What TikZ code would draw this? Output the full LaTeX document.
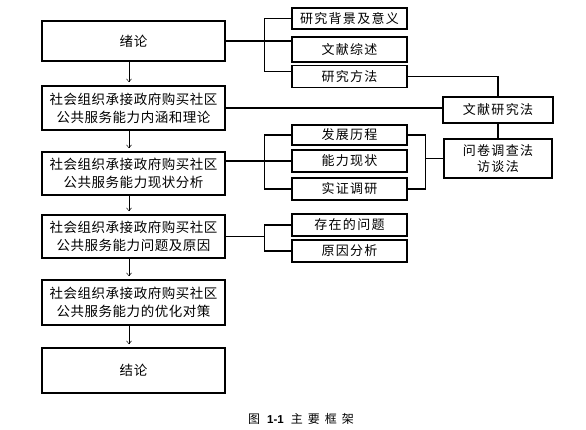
\documentclass[tikz,border=0pt]{standalone}
\usepackage{fontspec}
\setmainfont{Noto Sans CJK SC}
\newfontfamily\latinfont{Liberation Sans}
\usetikzlibrary{arrows.meta}
\begin{document}
\begin{tikzpicture}[x=1pt,y=-1pt,
  mainbox/.style={draw, line width=1.5pt, minimum width=183pt, inner sep=0pt, align=center, font=\fontsize{13.5}{18}\selectfont\addfontfeature{LetterSpace=4}},
  subbox/.style={draw, line width=1.4pt, minimum width=115pt, inner sep=0pt, align=center, font=\fontsize{13}{16}\selectfont\addfontfeature{LetterSpace=10}},
  link/.style={line width=1.3pt},
  flow/.style={line width=0.5pt, -{Straight Barb[length=3pt,width=5pt]}, shorten >=3pt}
]
\useasboundingbox (0,0) rectangle (586,430);
% main column
\node[mainbox, minimum height=40pt] (b1) at (133.5,41) {绪论};
\node[mainbox, minimum height=44pt] (b2) at (133.5,108) {社会组织承接政府购买社区\\公共服务能力内涵和理论};
\node[mainbox, minimum height=43pt] (b3) at (133.5,173.5) {社会组织承接政府购买社区\\公共服务能力现状分析};
\node[mainbox, minimum height=43pt] (b4) at (133.5,236.5) {社会组织承接政府购买社区\\公共服务能力问题及原因};
\node[mainbox, minimum height=45pt] (b5) at (133.5,302.5) {社会组织承接政府购买社区\\公共服务能力的优化对策};
\node[mainbox, minimum height=45pt] (b6) at (133.5,370.5) {结论};
% sub boxes
\node[subbox, minimum height=21pt] (r1) at (349.5,18.5) {研究背景及意义};
\node[subbox, minimum height=25pt] (r2) at (349.5,49.5) {文献综述};
\node[subbox, minimum height=22pt] (r3) at (349.5,76.5) {研究方法};
\node[subbox, minimum height=20pt] (r4) at (349.5,135) {发展历程};
\node[subbox, minimum height=22pt] (r5) at (349.5,161) {能力现状};
\node[subbox, minimum height=22pt] (r6) at (349.5,189) {实证调研};
\node[subbox, minimum height=22pt] (r7) at (349.5,225) {存在的问题};
\node[subbox, minimum height=22pt] (r8) at (349.5,251) {原因分析};
% method boxes
\node[subbox, minimum width=110pt, minimum height=26pt] (m1) at (498,110) {文献研究法};
\node[subbox, minimum width=108pt, minimum height=39pt] (m2) at (498,158.5) {问卷调查法\\访谈法};
% caption
\node[font=\fontsize{12}{14}\selectfont] (cap) at (301,419) {图\hspace{7pt}{\latinfont\bfseries\fontsize{11.5}{14}\selectfont 1-1}\hspace{7pt}主\hspace{5pt}要\hspace{5pt}框\hspace{5pt}架};
% flow arrows
\foreach \a/\b in {b1/b2,b2/b3,b3/b4,b4/b5,b5/b6}
  \draw[flow] ([xshift=-4.5pt]\a.south) -- ([xshift=-4.5pt]\b.north);
% coordinates for brackets
\path (r1.west) ++(-27,0) coordinate (k1);
\path (r4.west) ++(-27,0) coordinate (k2);
\path (r7.west) ++(-27,0) coordinate (k3);
\path (r4.east) ++(18,0) coordinate (k4);
% bracket 1
\draw[link] (r1.west) -- (k1) |- ([yshift=5pt]r3.west);
\draw[link] (b1.east) -- (b1.east -| r2.west);
% literature method
\draw[link] (b2.east) -- (b2.east -| m1.west);
\draw[link] (r3.east) -| (m1.north);
\draw[link] (m1.south) -- (m2.north);
% bracket 2
\draw[link] (r4.west) -- (k2) |- (r6.west);
\draw[link] (b3.east |- r5.west) -- (r5.west);
\draw[link] (r4.east) -- (k4) |- (r6.east);
\draw[link] (k4 |- m2.west) -- (m2.west);
% bracket 3
\draw[link] (r7.west) -- (k3) |- (r8.west);
\draw[link] (b4.east) -- (k3 |- b4.east);
\end{tikzpicture}
\end{document}
